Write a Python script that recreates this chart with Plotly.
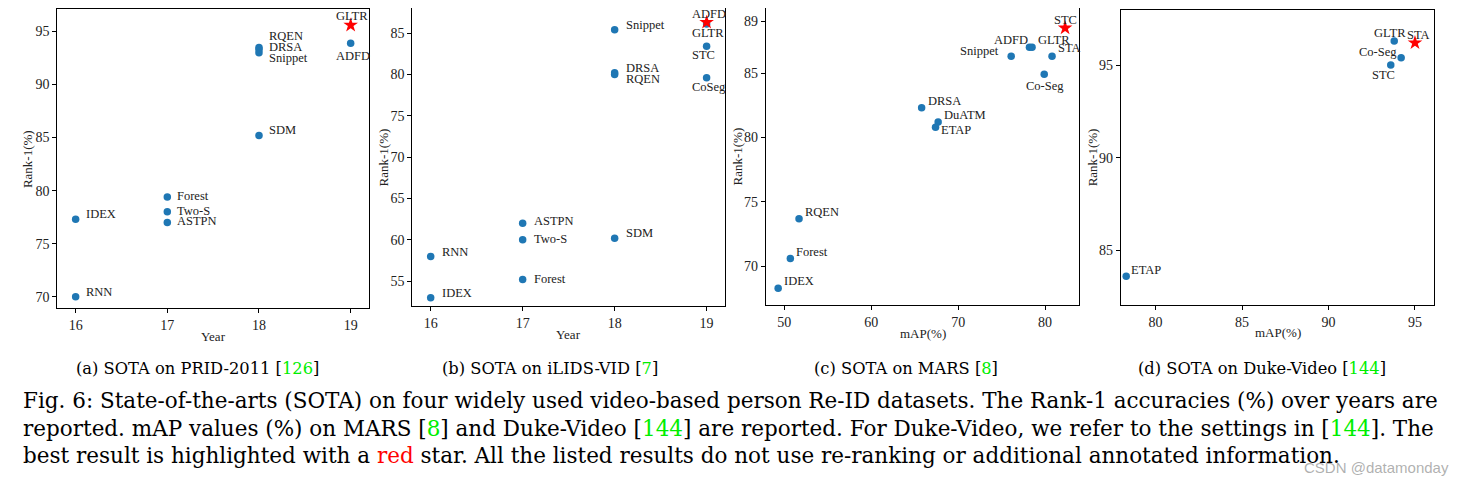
import plotly.graph_objects as go

# ---------------- data ----------------
# (a) PRID-2011: Rank-1 over years
prid_names = ["RNN", "IDEX", "Forest", "Two-S", "ASTPN", "SDM", "RQEN", "DRSA", "Snippet", "GLTR", "ADFD"]
prid_year = [16, 16, 17, 17, 17, 18, 18, 18, 18, 19, 19]
prid_rank1 = [70.0, 77.3, 79.4, 78.0, 77.0, 85.2, 93.5, 93.3, 93.0, 95.6, 93.9]
prid_best = "GLTR"

# (b) iLIDS-VID: Rank-1 over years
ilids_names = ["RNN", "IDEX", "ASTPN", "Two-S", "Forest", "SDM", "Snippet", "DRSA", "RQEN", "ADFD", "GLTR", "STC", "CoSeg"]
ilids_year = [16, 16, 17, 17, 17, 18, 18, 18, 18, 19, 19, 19, 19]
ilids_rank1 = [58.0, 53.0, 62.0, 60.0, 55.2, 60.2, 85.4, 80.2, 80.0, 86.3, 86.1, 83.4, 79.6]
ilids_best = "ADFD"

# (c) MARS: Rank-1 vs mAP
mars_names = ["IDEX", "Forest", "RQEN", "DRSA", "DuATM", "ETAP", "Snippet", "ADFD", "GLTR", "STA", "Co-Seg", "STC"]
mars_map = [49.3, 50.7, 51.7, 65.8, 67.7, 67.4, 76.1, 78.2, 78.5, 80.8, 79.9, 82.3]
mars_rank1 = [68.3, 70.6, 73.7, 82.3, 81.2, 80.8, 86.3, 87.0, 87.0, 86.3, 84.9, 88.5]
mars_best = "STC"

# (d) Duke-Video: Rank-1 vs mAP
duke_names = ["ETAP", "GLTR", "STA", "Co-Seg", "STC"]
duke_map = [78.3, 93.8, 95.0, 94.2, 93.6]
duke_rank1 = [83.6, 96.3, 96.2, 95.4, 95.0]
duke_best = "STA"

# tick values
year_ticks = [16, 17, 18, 19]
prid_yticks = [70, 75, 80, 85, 90, 95]
ilids_yticks = [55, 60, 65, 70, 75, 80, 85]
mars_xticks = [50, 60, 70, 80]
mars_yticks = [70, 75, 80, 85, 89]
duke_xticks = [80, 85, 90, 95]
duke_yticks = [85, 90, 95]

subcaptions = [
    ("(a) SOTA on PRID-2011 [", "126", "]"),
    ("(b) SOTA on iLIDS-VID [", "7", "]"),
    ("(c) SOTA on MARS [", "8", "]"),
    ("(d) SOTA on Duke-Video [", "144", "]"),
]

# ---------------- styles ----------------
W, H = 1467, 484          # window size (target pixel coordinates)
OFF = 8                   # default html body margin
FW, FH = W - OFF, H - OFF  # figure size so that it fits the window


def PX(px):
    return min(1.0, max(0.0, (px - OFF) / FW))


def PY(py):
    return min(1.0, max(0.0, 1 - (py - OFF) / FH))


BLUE = "#1f77b4"
RED = "#ff0000"
GREEN = "#00ee00"
SERIF = "Liberation Serif"
CAPFONT = "DejaVu Serif"

# label offsets (dx px, dy px, xanchor)
lab_a = {"RNN": (8, 5, "left"), "IDEX": (8, 5, "left"), "Forest": (8, 1, "left"),
         "Two-S": (8, 1, "left"), "ASTPN": (8, 1, "left"), "SDM": (8, 5, "left"),
         "RQEN": (8, 11, "left"), "DRSA": (8, 3, "left"), "Snippet": (8, -5, "left"),
         "GLTR": (1, 9, "center"), "ADFD": (2, -13, "center")}
lab_b = {"RNN": (9, 4, "left"), "IDEX": (9, 5, "left"), "ASTPN": (9, 2, "left"),
         "Two-S": (9, 1, "left"), "Forest": (9, 1, "left"), "SDM": (9, 5, "left"),
         "Snippet": (9, 5, "left"), "DRSA": (9, 5, "left"), "RQEN": (9, -5, "left"),
         "ADFD": (2, 8, "center"), "GLTR": (1, -9, "center"), "STC": (-3, -9, "center"),
         "CoSeg": (2, -9, "center")}
lab_c = {"IDEX": (4, 7, "left"), "Forest": (4, 7, "left"), "RQEN": (4, 7, "left"),
         "DRSA": (4, 7, "left"), "DuATM": (4, 7, "left"), "ETAP": (3, -3, "left"),
         "Snippet": (-10, 5, "right"), "ADFD": (1, 7, "right"), "GLTR": (4, 7, "left"),
         "STA": (4, 8, "left"), "Co-Seg": (1, -12, "center"), "STC": (0, 8, "center")}
lab_d = {"ETAP": (3, 6, "left"), "GLTR": (-4, 8, "center"), "STA": (4, 8, "center"),
         "Co-Seg": (-2, 6, "right"), "STC": (-7, -10, "center")}

# axis boxes measured in window pixels (left, right, top, bottom)
boxes = [(57.3, 369, 9.3, 308.3), (412.3, 725, 8.3, 306),
         (766, 1079, 8.0, 305), (1121, 1434, 10, 304.7)]

panels = [
    dict(names=prid_names, x=prid_year, y=prid_rank1, best=prid_best, lab=lab_a,
         xr=[15.8, 19.2], yr=[68.9, 97.1], xt=year_ticks, yt=prid_yticks, xtitle="Year"),
    dict(names=ilids_names, x=ilids_year, y=ilids_rank1, best=ilids_best, lab=lab_b,
         xr=[15.8, 19.2], yr=[52.0, 88.0], xt=year_ticks, yt=ilids_yticks, xtitle="Year"),
    dict(names=mars_names, x=mars_map, y=mars_rank1, best=mars_best, lab=lab_c,
         xr=[47.9, 83.9], yr=[67.0, 90.05], xt=mars_xticks, yt=mars_yticks, xtitle="mAP(%)"),
    dict(names=duke_names, x=duke_map, y=duke_rank1, best=duke_best, lab=lab_d,
         xr=[78.0, 96.1], yr=[82.07, 97.97], xt=duke_xticks, yt=duke_yticks, xtitle="mAP(%)"),
]

fig = go.Figure()
annotations = []
layout = {}

for i, p in enumerate(panels):
    k = "" if i == 0 else str(i + 1)
    xa, ya = "x" + k, "y" + k
    L, R, T, B = boxes[i]
    normal = [j for j, n in enumerate(p["names"]) if n != p["best"]]
    best = [j for j, n in enumerate(p["names"]) if n == p["best"]]
    fig.add_trace(go.Scatter(
        x=[p["x"][j] for j in normal], y=[p["y"][j] for j in normal],
        mode="markers", marker=dict(color=BLUE, size=7.5, line=dict(width=0)),
        xaxis=xa, yaxis=ya, showlegend=False, hoverinfo="text", cliponaxis=False,
        text=[p["names"][j] for j in normal]))
    fig.add_trace(go.Scatter(
        x=[p["x"][j] for j in best], y=[p["y"][j] for j in best],
        mode="markers", marker=dict(color=RED, size=11, symbol="star", line=dict(width=0)),
        xaxis=xa, yaxis=ya, showlegend=False, hoverinfo="text", cliponaxis=False,
        text=[p["names"][j] for j in best]))
    for n, xv, yv in zip(p["names"], p["x"], p["y"]):
        dx, dy, anc = p["lab"][n]
        annotations.append(dict(x=xv, y=yv, xref=xa, yref=ya, text=n, showarrow=False,
                                xshift=dx, yshift=dy, xanchor=anc, yanchor="middle",
                                font=dict(family=SERIF, size=12.5, color="#222")))
    axcommon = dict(showline=True, linecolor="black", linewidth=1.2, mirror=True,
                    ticks="outside", ticklen=4, tickwidth=1, tickcolor="black",
                    showgrid=False, zeroline=False, automargin=False,
                    tickfont=dict(family=SERIF, size=14, color="#222"))
    layout["xaxis" + k] = dict(domain=[PX(L), PX(R)], range=p["xr"], tickvals=p["xt"],
                               anchor=ya, **axcommon)
    layout["yaxis" + k] = dict(domain=[PY(B), PY(T)], range=p["yr"], tickvals=p["yt"],
                               anchor=xa, **axcommon)
    # axis titles
    annotations.append(dict(x=0.5, y=0, xref=xa + " domain", yref=ya + " domain",
                            text=p["xtitle"], showarrow=False, yshift=-28,
                            xanchor="center", yanchor="middle",
                            font=dict(family=SERIF, size=13, color="#222")))
    annotations.append(dict(x=0, y=0.5, xref=xa + " domain", yref=ya + " domain",
                            text="Rank-1(%)", showarrow=False, xshift=-29, textangle=-90,
                            xanchor="center", yanchor="middle",
                            font=dict(family=SERIF, size=13, color="#222")))


def colored(txt, color):
    return "<span style='color:" + color + "'>" + txt + "</span>"


# sub-captions
cap_cx = [197.5, 550, 906, 1261.5]
for (a, b, c), cx in zip(subcaptions, cap_cx):
    annotations.append(dict(x=PX(cx), y=PY(368), xref="paper", yref="paper",
                            text=a + colored(b, GREEN) + c,
                            showarrow=False, xanchor="center", yanchor="middle",
                            font=dict(family=CAPFONT, size=16.3, color="black")))

# figure caption
cap_lines = [
    "Fig. 6: State-of-the-arts (SOTA) on four widely used video-based person Re-ID datasets. The Rank-1 accuracies (%) over years are",
    "reported. mAP values (%) on MARS [" + colored("8", GREEN) + "] and Duke-Video [" + colored("144", GREEN)
    + "] are reported. For Duke-Video, we refer to the settings in [" + colored("144", GREEN) + "]. The",
    "best result is highlighted with a " + colored("red", RED)
    + " star. All the listed results do not use re-ranking or additional annotated information.",
]
for line, cy in zip(cap_lines, [400, 428, 455]):
    annotations.append(dict(x=PX(20.7), y=PY(cy), xref="paper", yref="paper",
                            text=line, showarrow=False, xanchor="left", yanchor="middle",
                            font=dict(family=CAPFONT, size=21.5, color="black")))

# watermark
annotations.append(dict(x=PX(1451), y=PY(467), xref="paper", yref="paper",
                        text="CSDN @datamonday", showarrow=False, xanchor="right", yanchor="middle",
                        font=dict(family="Liberation Sans", size=15, color="rgba(150,150,150,0.75)")))

fig.update_layout(width=FW, height=FH, margin=dict(l=0, r=0, t=0, b=0),
                  paper_bgcolor="white", plot_bgcolor="white",
                  annotations=annotations, **layout)
fig.write_html("out.html")
